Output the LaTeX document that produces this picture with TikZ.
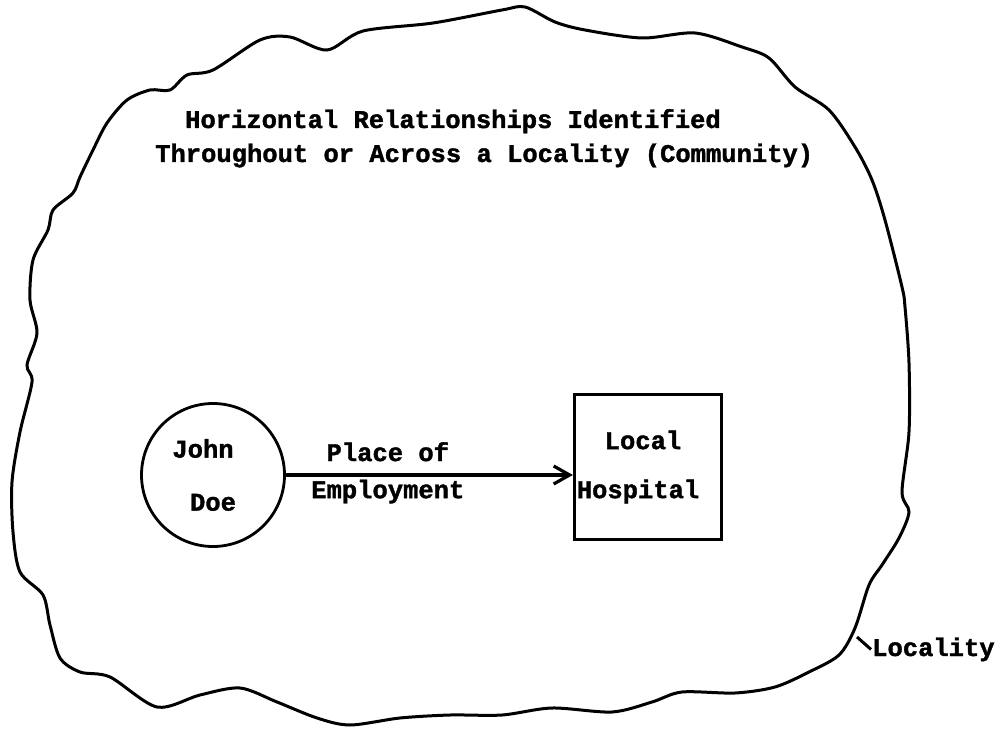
\documentclass[tikz,border=0pt]{standalone}
\usepackage{fontspec}
\setmonofont{Liberation Mono}[BoldFeatures={FakeBold=1.5}]
\usetikzlibrary{arrows.meta,shapes.geometric}
\tikzset{%
	type/.style   = {font=\ttfamily\bfseries\fontsize{25.5}{33}\selectfont, inner sep=1pt},
	person/.style = {draw, circle, line width=2.8pt, minimum size=143pt, inner sep=0pt, align=center},
	place/.style  = {draw, rectangle, line width=3.2pt, minimum width=147pt, minimum height=145pt, inner sep=1pt, align=center},
	arrow/.style  = {line width=3.4pt, -{Straight Barb[length=16pt,width=18pt,line width=3.2pt]}},
}

\begin{document}
\begin{tikzpicture}[x=1pt,y=-1pt,every node/.append style={type}]
		\useasboundingbox (0,0) rectangle (1004,730);
		% locality outline
		\draw[line width=3pt] plot[smooth cycle, tension=0.5] coordinates {
			(525,7) (555,22) (585,30) (642,38) (695,33) (742,47) (769,58) (795,87)
			(829,110) (855,147) (872,180) (885,220) (902,287) (905,307) (909,363)
			(909,432) (902,492) (909,512) (899,538) (882,565) (869,585) (855,628)
			(839,655) (809,672) (775,687) (735,693) (682,692) (652,702) (612,712)
			(552,708) (502,715) (450,715) (400,718) (350,725) (317,718) (277,702)
			(240,688) (200,695) (157,707) (110,677) (80,672) (60,658) (50,625)
			(43,595) (20,572) (13,532) (12,482) (20,432) (32,382) (27,365) (37,333)
			(30,300) (33,260) (48,230) (53,210) (73,193) (80,177) (93,150) (107,123)
			(127,100) (150,90) (170,90) (187,75) (213,70) (260,40) (290,37) (327,50)
			(363,31) (433,23) (502,10)};
		\node[anchor=base west] (title1) at (184,128) {Horizontal Relationships Identified};
		\node[anchor=base west] (title2) at (154,162) {Throughout or Across a Locality (Community)};
		\node[person] (doe) at (213,475) {John\hspace*{20pt}\\[20pt]Doe};
		\node[place] (hospital) at (648,467) {Local\hspace*{10pt}\\[16pt]Hospital\hspace*{20pt}};
		\draw[arrow] (doe.east) -- (doe.east -| hospital.west)
			node[pos=0.355, above=11pt] {Place of}
			node[pos=0.355, below=2pt] {Employment};
		\node[anchor=base west] (locality) at (871,656) {Locality};
		\coordinate (tick) at (857,637);
		\draw[line width=3pt] (tick) -- (locality.west);
	\end{tikzpicture}
\end{document}
